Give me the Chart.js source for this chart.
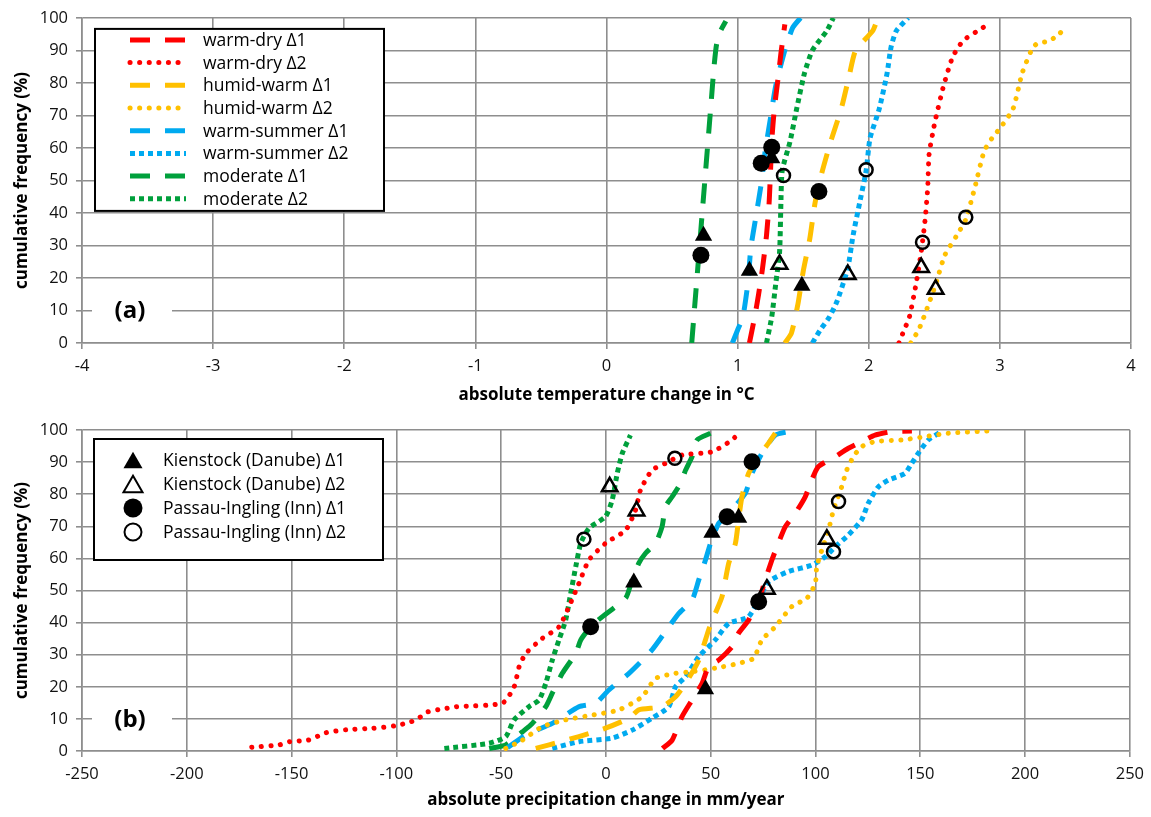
<!DOCTYPE html>
<html>
<head>
<meta charset="utf-8">
<title>Cumulative frequency of temperature and precipitation change</title>
<script src="https://cdn.jsdelivr.net/npm/chart.js@4.4.1/dist/chart.umd.min.js"></script>
<style>
    body { margin: 0; background: #fff; }
    canvas { display: block; }
</style>
</head>
<body>
<canvas id="tempChart" width="1151" height="410"></canvas>
<canvas id="precChart" width="1151" height="407"></canvas>
<script>
// ---- panel (a): absolute temperature change (°C), points are [change, cumulative %]
const tempWarmDry1 = [[1.09,0],[1.13,8],[1.16,15],[1.19,23],[1.22,33],[1.24,43],[1.25,52],[1.26,62],[1.28,72],[1.31,82],[1.33,89],[1.35,95],[1.36,98]];
const tempWarmDry2 = [[2.23,0],[2.27,4],[2.31,8],[2.36,18],[2.40,28],[2.43,38],[2.45,48],[2.46,58],[2.49,65],[2.51,69],[2.57,79],[2.64,88],[2.72,93],[2.83,96],[2.91,98]];
const tempHumidWarm1 = [[1.36,0],[1.41,3],[1.46,12],[1.50,22],[1.55,32],[1.59,43],[1.64,52],[1.71,62],[1.79,72],[1.85,82],[1.90,90],[2.03,96],[2.07,100]];
const tempHumidWarm2 = [[2.32,0],[2.38,4],[2.43,9],[2.51,18],[2.58,27],[2.67,33],[2.74,38],[2.81,48],[2.88,59],[2.94,63],[3.00,66],[3.10,72],[3.17,83],[3.24,90],[3.28,92],[3.38,93],[3.45,95],[3.50,97]];
const tempWarmSummer1 = [[0.96,0],[1.00,4],[1.04,8],[1.08,19],[1.10,29],[1.14,39],[1.18,49],[1.21,59],[1.25,69],[1.29,79],[1.36,90],[1.42,97],[1.48,100]];
const tempWarmSummer2 = [[1.57,0],[1.63,4],[1.70,8],[1.76,13],[1.84,23],[1.88,33],[1.93,43],[1.98,53],[2.01,63],[2.08,72],[2.14,83],[2.17,91],[2.21,96],[2.30,100]];
const tempModerate1 = [[0.65,0],[0.67,10],[0.70,25],[0.73,40],[0.76,55],[0.78,65],[0.80,75],[0.82,85],[0.84,92],[0.87,96],[0.91,99]];
const tempModerate2 = [[1.22,0],[1.26,8],[1.29,18],[1.32,28],[1.33,43],[1.34,53],[1.40,62],[1.45,72],[1.51,83],[1.57,90],[1.68,96],[1.73,100]];

// gauges in panel (a)
const tempKienstock1 = [[0.74,33],[1.09,22.2],[1.26,56.8],[1.49,17.6]];
const tempKienstock2 = [[1.32,24.2],[1.84,21.1],[2.40,23.2],[2.51,16.5]];
const tempPassau1 = [[0.72,27],[1.18,55.3],[1.26,60.2],[1.62,46.6]];
const tempPassau2 = [[1.35,51.5],[1.98,53.3],[2.41,31],[2.74,38.7]];

// ---- panel (b): absolute precipitation change (mm/year)
const precWarmDry1 = [[27,0.8],[31.6,3.4],[36.3,10.7],[41.1,15.9],[45.9,21.1],[49,26.3],[53.8,28.3],[60.2,32.5],[63.3,36.7],[68.1,40.8],[70.5,45],[73,47],[76,53.3],[79.2,59.5],[81.6,63.6],[85.6,69.9],[90.3,74],[95.1,79.2],[98.2,84.4],[101.4,88.6],[109.4,91.7],[115.7,94.3],[123.7,96.9],[128.4,98.4],[136.3,99.5],[146,99.7]];
const precWarmDry2 = [[-169,1.2],[-156,1.9],[-151,2.9],[-142,3.4],[-133.5,5.7],[-124,6.6],[-111,7.1],[-101,7.8],[-93,9.1],[-89,10.4],[-85,12.2],[-76,13.3],[-71.6,13.8],[-49.4,14.9],[-43.8,20],[-41.4,26.3],[-38.2,30.4],[-30.3,35.1],[-22.4,38.7],[-17.6,45],[-12.9,52.2],[-8.1,59.5],[-0.2,64.7],[9.4,68.8],[14.1,75],[16.5,81.3],[22,87.5],[28.4,89.6],[36.3,92.2],[50.6,93.2],[60.2,96.9],[63.3,99]];
const precHumidWarm1 = [[-33.5,0.8],[-27.1,1.9],[-12.9,4.5],[-0.2,7.1],[11,10.2],[15.7,12.8],[26.8,13.8],[33.2,16.9],[38,21.1],[44.3,28.3],[49,37.7],[52.2,42.9],[55.4,48.1],[58.6,58.5],[61.8,64.7],[63.3,72],[64.9,79.2],[68.1,86.5],[72.9,91.7],[77.6,95.9],[80.8,99]];
const precHumidWarm2 = [[-47.8,0.8],[-39.9,3.4],[-30.3,7.6],[-19.2,9.7],[-6.5,11.2],[6.2,12.8],[17.3,16.9],[23.7,22.6],[33.2,24.2],[41.1,24.7],[52.2,25.8],[63.3,27.3],[70.5,28.9],[74.4,34.6],[80.8,38.7],[88.7,45],[95.9,47.6],[99.9,52.2],[100.6,57.4],[103,62.6],[106.2,68.8],[108.6,75.1],[112.5,82.3],[114.9,87.5],[118.1,91.7],[122,94.8],[128.4,96.4],[141.1,96.9],[152.2,97.9],[163.3,99],[182.4,99.7]];
const precWarmSummer1 = [[-47,1],[-38.2,5],[-25.6,8.6],[-12.9,13.8],[-4.9,14.9],[1.4,19],[11,24.2],[22,31.5],[30,38.7],[34.8,42.9],[41.1,47],[44.3,53.3],[47.5,59.5],[49.9,64.7],[53.8,70.9],[58.6,74],[66.5,80.3],[69.7,86.5],[74.4,92.7],[80.8,98.4],[87.1,99.5]];
const precWarmSummer2 = [[-25.6,0.8],[-12.9,2.9],[3,4],[12.5,6.5],[22,10.2],[30,13.8],[33.2,20],[38,23.1],[44.3,29.4],[52.2,34.6],[58.6,39.8],[68.1,41.8],[77.6,52.7],[87.1,55.9],[98.2,57.9],[104.6,60.5],[109.4,63.6],[115.7,67.3],[122,72],[125.2,77.2],[130,82.3],[134.8,84.4],[142.7,86.5],[145.9,89.6],[149,92.7],[153.8,96.9],[160.1,99.5]];
const precModerate1 = [[-55.7,0.8],[-47.8,1.9],[-39.8,6],[-35.1,8.6],[-28.7,13.8],[-25.6,18],[-20.8,24.2],[-14.4,30.4],[-12,34.6],[-7.3,38.7],[-1.8,41.8],[9.4,47.6],[12.5,53.3],[15.7,58.5],[18.9,61.6],[23.7,64.7],[26.8,69.9],[28.4,76.1],[31.6,79.2],[35.6,83.4],[38,87.5],[41.1,91.7],[43.5,96.9],[49.9,99]];
const precModerate2 = [[-77.1,0.8],[-55.7,2.4],[-47.8,4.5],[-43.8,9.7],[-36.7,13.8],[-31.9,15.9],[-28.7,21.1],[-25.6,28.3],[-22.4,34.6],[-19.2,40.8],[-16.8,49.1],[-14.4,57.4],[-12,64.7],[-8.1,69.4],[-0.2,73],[3,78.2],[5.4,86.5],[7.8,92.7],[11.7,98.4]];

// gauges in panel (b)
const precKienstock1 = [[13.3,52.5],[50.6,68],[63.3,72.7],[47.5,19.2]];
const precKienstock2 = [[1.8,82.3],[14.6,74.8],[76.8,50.4],[105.4,66]];
const precPassau1 = [[-7.3,38.7],[57.8,73],[69.7,90.1],[72.9,46.5]];
const precPassau2 = [[-10.5,66],[32.9,91.2],[111,77.7],[108.6,62.1]];

// tick settings
const cumFreqTicks = { min: 0, max: 100, step: 10 };
const tempTicks = { min: -4, max: 4, step: 1 };
const precTicks = { min: -250, max: 250, step: 50 };

const RED = '#ff0000', YELLOW = '#ffc000', BLUE = '#00aaf0', GREEN = '#00a03c';
const GRID = '#8e8e8e';
const FONT = '"Open Sans", "Noto Sans", sans-serif';

const lineStyles = {
    dash: { borderDash: [20, 15], borderCapStyle: 'butt', borderWidth: 5 },
    roundDot: { borderDash: [0.1, 9.5], borderCapStyle: 'round', borderWidth: 5 },
    squareDot: { borderDash: [5, 4], borderCapStyle: 'butt', borderWidth: 5 }
};

function toXY(points) {
    return points.map(p => ({ x: p[0], y: p[1] }));
}

function lineSet(label, points, color, style) {
    const s = lineStyles[style];
    return {
        kind: 'line',
        label: label,
        data: toXY(points),
        showLine: true,
        borderColor: color,
        borderWidth: s.borderWidth,
        borderDash: s.borderDash,
        borderCapStyle: s.borderCapStyle,
        tension: 0.2,
        pointRadius: 0,
        fill: false,
        order: 1
    };
}

function markerSet(label, points, shape, filled) {
    return {
        kind: 'marker',
        label: label,
        data: toXY(points),
        showLine: false,
        pointStyle: shape,
        pointRadius: shape === 'triangle' ? (filled ? 10 : 9) : (filled ? 8.5 : 6.5),
        pointBackgroundColor: filled ? '#000' : 'rgba(0,0,0,0)',
        pointBorderColor: '#000',
        pointBorderWidth: filled ? 0 : 2.5,
        filled: filled,
        order: 0
    };
}

function regionSets(wd1, wd2, hw1, hw2, ws1, ws2, md1, md2) {
    return [
        lineSet('warm-dry Δ1', wd1, RED, 'dash'),
        lineSet('warm-dry Δ2', wd2, RED, 'roundDot'),
        lineSet('humid-warm Δ1', hw1, YELLOW, 'dash'),
        lineSet('humid-warm Δ2', hw2, YELLOW, 'roundDot'),
        lineSet('warm-summer Δ1', ws1, BLUE, 'dash'),
        lineSet('warm-summer Δ2', ws2, BLUE, 'squareDot'),
        lineSet('moderate Δ1', md1, GREEN, 'dash'),
        lineSet('moderate Δ2', md2, GREEN, 'squareDot')
    ];
}

function gaugeSets(k1, k2, p1, p2) {
    return [
        markerSet('Kienstock (Danube) Δ1', k1, 'triangle', true),
        markerSet('Kienstock (Danube) Δ2', k2, 'triangle', false),
        markerSet('Passau-Ingling (Inn) Δ1', p1, 'circle', true),
        markerSet('Passau-Ingling (Inn) Δ2', p2, 'circle', false)
    ];
}

// legend box inside the plot plus the (a)/(b) panel label
const panelExtras = {
    id: 'panelExtras',
    afterDraw(chart, args, opts) {
        const { ctx, chartArea, scales } = chart;
        ctx.save();

        // panel label sitting on the 10 % grid line
        const ly = scales.y.getPixelForValue(10);
        ctx.fillStyle = '#fff';
        ctx.fillRect(chartArea.left + 10, ly - 3, 80, 6);
        ctx.fillStyle = '#000';
        ctx.font = 'bold 24px ' + FONT;
        ctx.textAlign = 'center';
        ctx.textBaseline = 'middle';
        ctx.fillText(opts.label, chartArea.left + 48, ly + 1);

        // legend
        const bx = chartArea.left + opts.dx, by = chartArea.top + opts.dy;
        ctx.fillStyle = '#fff';
        ctx.fillRect(bx, by, opts.w, opts.h);
        ctx.strokeStyle = '#000';
        ctx.lineWidth = 2;
        ctx.setLineDash([]);
        ctx.strokeRect(bx, by, opts.w, opts.h);

        const rows = chart.data.datasets.filter(d => d.kind === opts.source);
        ctx.font = '17.5px ' + FONT;
        ctx.textAlign = 'left';
        rows.forEach((ds, i) => {
            const ry = by + opts.firstRow + i * opts.rowGap;
            if (ds.kind === 'line') {
                ctx.save();
                ctx.strokeStyle = ds.borderColor;
                ctx.lineWidth = ds.borderWidth;
                ctx.lineCap = ds.borderCapStyle;
                ctx.setLineDash(ds.borderDash);
                ctx.beginPath();
                ctx.moveTo(bx + 35, ry);
                ctx.lineTo(bx + 91, ry);
                ctx.stroke();
                ctx.restore();
            } else {
                const cx = bx + 39;
                ctx.save();
                ctx.fillStyle = ds.filled ? '#000' : 'rgba(0,0,0,0)';
                ctx.strokeStyle = '#000';
                ctx.lineWidth = 2;
                ctx.beginPath();
                if (ds.pointStyle === 'triangle') {
                    const r = 11, cy = ry + r / 4;
                    ctx.moveTo(cx, cy - r);
                    ctx.lineTo(cx + 0.866 * r, cy + r / 2);
                    ctx.lineTo(cx - 0.866 * r, cy + r / 2);
                    ctx.closePath();
                } else {
                    ctx.arc(cx, ry, ds.filled ? 9.5 : 8.5, 0, Math.PI * 2);
                }
                if (ds.filled) ctx.fill(); else ctx.stroke();
                ctx.restore();
            }
            ctx.fillStyle = '#000';
            ctx.fillText(ds.label, bx + opts.textX, ry + 1);
        });
        ctx.restore();
    }
};

function panelOptions(xt, xTitle, p) {
    return {
        responsive: false,
        animation: false,
        events: [],
        layout: { padding: { top: p.top, right: 20, left: 0, bottom: 0 } },
        scales: {
            x: {
                type: 'linear',
                min: xt.min,
                max: xt.max,
                afterFit: s => { s.height = p.axisHeight; },
                afterBuildTicks: s => {
                    s.ticks = [];
                    for (let v = xt.min; v <= xt.max; v += xt.step) s.ticks.push({ value: v });
                },
                grid: { color: GRID, lineWidth: 1.6, tickLength: 6, tickColor: GRID },
                border: { color: GRID, width: 1.6 },
                ticks: { color: '#111', padding: 7, font: { size: 16.5 } },
                title: {
                    display: true,
                    text: xTitle,
                    color: '#000',
                    font: { size: 17, weight: 'bold' },
                    padding: { top: 0, bottom: p.titlePad }
                }
            },
            y: {
                type: 'linear',
                min: cumFreqTicks.min,
                max: cumFreqTicks.max,
                afterFit: s => { s.width = 82; },
                ticks: { stepSize: cumFreqTicks.step, color: '#111', padding: 8, font: { size: 16.5 } },
                grid: { color: GRID, lineWidth: 1.6, tickLength: 6, tickColor: GRID },
                border: { color: GRID, width: 1.6 },
                title: {
                    display: true,
                    text: 'cumulative frequency (%)',
                    color: '#000',
                    font: { size: 17, weight: 'bold' },
                    padding: { top: 12, bottom: 0 }
                }
            }
        },
        plugins: {
            legend: { display: false },
            tooltip: { enabled: false },
            panelExtras: p.extras
        }
    };
}

window.addEventListener('load', () => {
    Chart.defaults.font.family = FONT;

    new Chart(document.getElementById('tempChart').getContext('2d'), {
        type: 'scatter',
        data: {
            datasets: regionSets(tempWarmDry1, tempWarmDry2, tempHumidWarm1, tempHumidWarm2,
                tempWarmSummer1, tempWarmSummer2, tempModerate1, tempModerate2)
                .concat(gaugeSets(tempKienstock1, tempKienstock2, tempPassau1, tempPassau2))
        },
        options: panelOptions(tempTicks, 'absolute temperature change in °C', {
            top: 17, axisHeight: 67, titlePad: 5,
            extras: { label: '(a)', source: 'line', dx: 13, dy: 11, w: 289, h: 182, firstRow: 11, rowGap: 22.7, textX: 108 }
        }),
        plugins: [panelExtras]
    });

    new Chart(document.getElementById('precChart').getContext('2d'), {
        type: 'scatter',
        data: {
            datasets: regionSets(precWarmDry1, precWarmDry2, precHumidWarm1, precHumidWarm2,
                precWarmSummer1, precWarmSummer2, precModerate1, precModerate2)
                .concat(gaugeSets(precKienstock1, precKienstock2, precPassau1, precPassau2))
        },
        options: panelOptions(precTicks, 'absolute precipitation change in mm/year', {
            top: 20, axisHeight: 66, titlePad: 7,
            extras: { label: '(b)', source: 'marker', dx: 12, dy: 9, w: 289, h: 121, firstRow: 21, rowGap: 24, textX: 69 }
        }),
        plugins: [panelExtras]
    });
});
</script>
</body>
</html>
